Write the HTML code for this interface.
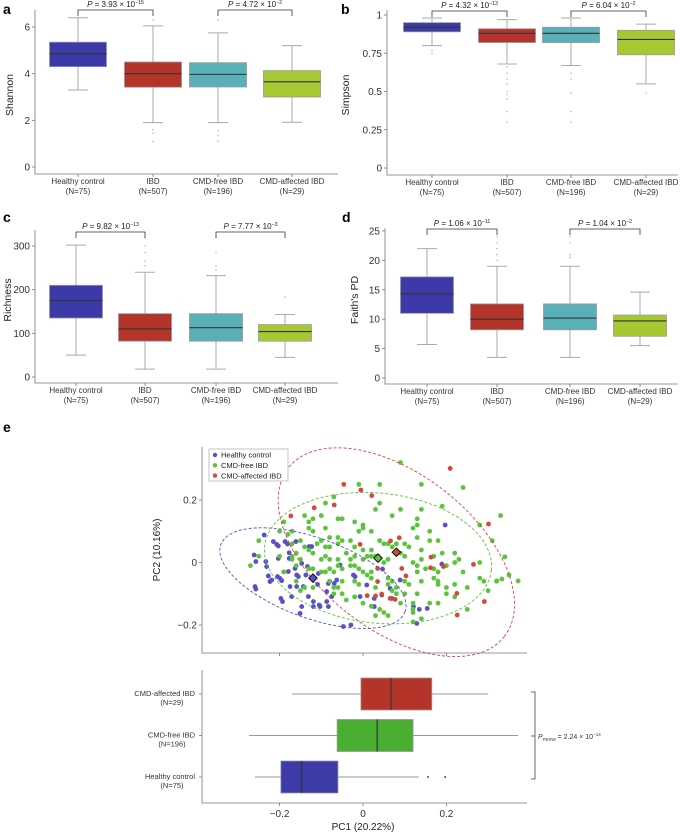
<!DOCTYPE html>
<html><head><meta charset="utf-8">
<style>
html,body{margin:0;padding:0;background:#fff;}
svg{display:block;font-family:"Liberation Sans",Arial,sans-serif;}
</style></head>
<body>
<svg id="fig" width="680" height="833" viewBox="0 0 680 833" xmlns="http://www.w3.org/2000/svg"></svg>
<script>
// ---------- data: alpha diversity panels ----------
const groups = ["Healthy control","IBD","CMD-free IBD","CMD-affected IBD"];
const groupN = ["(N=75)","(N=507)","(N=196)","(N=29)"];
const boxColors = ["#3b3aa8","#b5342a","#5ab0b8","#a6c933"];

const shannonLo = [3.3,1.9,1.9,1.92];
const shannonQ1 = [4.3,3.42,3.43,3.0];
const shannonMed = [4.85,4.0,3.97,3.65];
const shannonQ3 = [5.35,4.5,4.47,4.13];
const shannonHi = [6.4,6.05,5.75,5.2];
const shannonOut = [[],[1.6,1.45,1.1,6.3],[1.55,1.35,1.1,6.3],[]];

const simpsonLo = [0.80,0.68,0.67,0.55];
const simpsonQ1 = [0.89,0.82,0.82,0.74];
const simpsonMed = [0.92,0.88,0.88,0.84];
const simpsonQ3 = [0.95,0.91,0.92,0.90];
const simpsonHi = [0.98,0.97,0.98,0.94];
const simpsonOut = [[0.77,0.75],[0.66,0.62,0.58,0.55,0.5,0.48,0.45,0.37,0.3],[0.62,0.58,0.49,0.37,0.3],[0.49]];

const richLo = [50,18,18,45];
const richQ1 = [135,82,82,82];
const richMed = [175,110,113,104];
const richQ3 = [210,145,145,120];
const richHi = [302,240,232,143];
const richOut = [[],[255,265,285,300,320],[245,255,285,320],[183]];

const faithLo = [5.7,3.5,3.5,5.5];
const faithQ1 = [11,8.2,8.2,7.1];
const faithMed = [14.3,10,10.2,9.7];
const faithQ3 = [17.2,12.6,12.6,10.7];
const faithHi = [22,19,19,14.6];
const faithOut = [[],[20,21,22,23,24],[20.5,21,23,24],[]];

const pLabels = [["3.93","−15","4.72","−2"],["4.32","−13","6.04","−2"],["9.82","−13","7.77","−3"],["1.06","−11","1.04","−2"]];

// ---------- data: PCoA ----------
const hcPoints = [[-0.237,0.088],[-0.261,0.024],[-0.257,0.003],[-0.259,-0.077],[-0.257,-0.085],[-0.233,0.003],[-0.231,-0.013],[-0.227,-0.043],[-0.223,-0.061],[-0.219,-0.056],[-0.215,0.067],[-0.207,0.058],[-0.203,0.053],[-0.203,0.013],[-0.205,-0.045],[-0.199,-0.051],[-0.195,-0.058],[-0.197,-0.115],[-0.193,-0.125],[-0.187,0.067],[-0.181,0.059],[-0.177,0.031],[-0.177,0.013],[-0.179,-0.029],[-0.175,-0.077],[-0.171,-0.109],[-0.163,-0.019],[-0.159,-0.040],[-0.159,-0.077],[-0.161,0.067],[-0.155,-0.045],[-0.151,-0.163],[-0.147,-0.003],[-0.147,-0.141],[-0.143,-0.077],[-0.137,-0.040],[-0.133,-0.013],[-0.131,-0.109],[-0.129,0.051],[-0.123,0.051],[-0.119,-0.125],[-0.119,-0.141],[-0.107,-0.035],[-0.105,-0.136],[-0.109,-0.070],[-0.103,-0.141],[-0.087,-0.093],[-0.087,-0.125],[-0.083,-0.067],[-0.083,-0.141],[-0.075,-0.109],[-0.069,-0.067],[-0.063,-0.056],[-0.055,-0.008],[-0.047,-0.205],[-0.029,-0.200],[-0.023,-0.040],[-0.019,-0.045],[-0.007,-0.109],[0.009,-0.072],[0.027,-0.141],[0.027,-0.115],[0.045,-0.104],[0.047,-0.021],[0.065,-0.083],[0.069,-0.115],[0.089,-0.056],[0.121,-0.141],[0.129,-0.195],[0.135,-0.150],[0.154,-0.147],[0.197,0.120],[0.189,-0.005]];
const freePoints = [[0.09,0.32],[0.24,0.24],[-0.01,0.25],[0.04,0.25],[0.14,0.25],[0.19,0.18],[0.09,0.17],[0.14,0.17],[-0.09,0.19],[-0.07,0.21],[0.04,0.19],[0.03,0.17],[0.07,0.15],[-0.19,0.13],[-0.14,0.15],[-0.12,0.14],[-0.06,0.14],[-0.05,0.14],[-0.02,0.13],[0.00,0.12],[0.02,0.10],[0.00,0.11],[-0.01,0.10],[0.13,0.14],[0.13,0.12],[0.16,0.10],[0.12,0.11],[-0.20,0.10],[-0.18,0.09],[-0.17,0.10],[-0.13,0.11],[-0.12,0.10],[-0.09,0.11],[-0.06,0.08],[-0.05,0.07],[-0.08,0.08],[-0.10,0.07],[-0.15,0.07],[-0.17,0.06],[-0.14,0.05],[-0.11,0.06],[-0.09,0.05],[-0.08,0.05],[-0.06,0.06],[-0.03,0.07],[-0.02,0.05],[0.00,0.04],[0.02,0.04],[0.04,0.07],[0.06,0.06],[0.07,0.05],[0.10,0.06],[0.11,0.05],[0.13,0.08],[0.16,0.07],[0.18,0.07],[0.22,0.03],[0.24,-0.03],[0.28,0.12],[0.31,0.07],[0.32,-0.06],[0.33,0.15],[0.28,0.00],[0.28,-0.05],[0.25,-0.08],[0.22,-0.07],[0.20,-0.08],[0.18,-0.03],[0.17,-0.05],[0.15,-0.02],[0.14,0.01],[0.12,0.00],[0.13,-0.01],[0.14,-0.06],[0.13,-0.10],[0.12,-0.13],[0.12,-0.16],[0.12,-0.19],[0.10,-0.10],[0.08,-0.08],[0.07,-0.06],[0.06,-0.05],[0.05,0.00],[0.06,0.01],[0.03,0.02],[0.02,0.02],[0.01,0.02],[0.00,0.01],[-0.02,0.02],[-0.03,0.01],[-0.04,0.03],[-0.06,0.01],[-0.06,-0.01],[-0.08,-0.02],[-0.08,0.01],[-0.09,0.02],[-0.10,0.01],[-0.12,0.03],[-0.13,0.04],[-0.15,0.01],[-0.16,0.03],[-0.17,0.02],[-0.25,0.07],[-0.25,0.02],[-0.27,-0.01],[-0.13,-0.02],[-0.12,-0.02],[-0.10,-0.03],[-0.09,-0.03],[-0.07,-0.03],[-0.05,-0.02],[-0.03,-0.01],[-0.02,-0.01],[-0.01,-0.02],[0.00,-0.03],[0.01,-0.04],[0.02,-0.05],[0.02,-0.03],[0.03,-0.08],[0.06,-0.07],[0.07,-0.09],[0.08,-0.10],[-0.01,-0.07],[-0.02,-0.06],[-0.05,-0.06],[-0.06,-0.08],[-0.07,-0.08],[-0.08,-0.06],[-0.07,-0.10],[-0.05,-0.10],[-0.04,-0.12],[-0.02,-0.11],[0.00,-0.13],[0.02,-0.14],[0.04,-0.15],[0.05,-0.16],[0.10,-0.06],[0.13,-0.03],[0.17,-0.02],[0.18,-0.06],[0.20,-0.10],[0.22,-0.11],[0.16,-0.13],[0.18,-0.13],[0.12,-0.15],[0.14,-0.18],[0.09,-0.13],[0.03,-0.17],[0.06,-0.17],[-0.16,-0.06],[-0.15,-0.09],[-0.14,-0.08],[-0.12,-0.08],[-0.17,0.01],[-0.20,0.02],[-0.19,-0.03],[-0.16,-0.01],[0.18,-0.07],[0.11,-0.07],[0.09,0.03],[0.10,0.02],[0.08,0.06],[0.17,0.02],[0.19,0.03],[0.29,-0.06],[0.30,-0.09],[0.22,0.00],[0.23,0.01],[0.20,-0.01],[0.14,0.04],[0.05,0.06],[-0.10,0.15],[-0.13,0.13],[0.372,-0.059],[0.350,-0.040],[0.340,0.018],[0.333,-0.053],[0.321,-0.059],[0.25,-0.15]];
const affPoints = [[0.209,0.301],[-0.046,0.250],[-0.005,0.232],[0.021,0.214],[-0.117,0.175],[-0.069,0.184],[-0.173,0.149],[-0.007,0.058],[0.066,0.069],[0.087,0.079],[0.081,0.029],[0.093,-0.019],[0.103,-0.043],[0.035,-0.019],[0.035,-0.061],[0.010,-0.106],[0.030,-0.107],[0.045,-0.101],[0.065,-0.115],[0.077,-0.118],[0.163,0.017],[0.162,-0.017],[0.193,-0.013],[0.265,-0.006],[0.225,-0.099],[0.291,-0.125],[0.226,-0.168],[0.301,0.123]];
const centroidX = [-0.12,0.036,0.08];
const centroidY = [-0.05,0.014,0.033];
const pcTicks = [-0.2,0,0.2];
const pcTickLabels = ["−0.2","0","0.2"];

// PC1 boxplot (rows bottom->top: HC, CMD-free, CMD-affected)
const pcGroups = ["Healthy control","CMD-free IBD","CMD-affected IBD"];
const pcN = ["(N=75)","(N=196)","(N=29)"];
const pcLo = [-0.259,-0.273,-0.17];
const pcQ1 = [-0.197,-0.062,-0.005];
const pcMed = [-0.147,0.034,0.067];
const pcQ3 = [-0.06,0.12,0.165];
const pcHi = [0.134,0.372,0.30];
const pcOut = [[0.156,0.197],[],[]];

// ---------- drawing ----------
const NS="http://www.w3.org/2000/svg";
const svg=document.getElementById('fig');
function mk(tag,attrs,parent){const e=document.createElementNS(NS,tag);for(const k in attrs)e.setAttribute(k,attrs[k]);(parent||svg).appendChild(e);return e;}
function txt(s,attrs,parent){const t=mk('text',attrs,parent);t.textContent=s;return t;}

function pLabel(g,cx,y,mant,exp,size){
  const t=mk('text',{x:cx,y:y,'font-size':size,'text-anchor':'middle',fill:'#222'},g);
  const a=document.createElementNS(NS,'tspan');a.setAttribute('font-style','italic');a.textContent='P';t.appendChild(a);
  const b=document.createElementNS(NS,'tspan');b.textContent=' = '+mant+' × 10';t.appendChild(b);
  const c=document.createElementNS(NS,'tspan');c.setAttribute('font-size',size*0.65);c.setAttribute('dy',-size*0.4);c.textContent=exp;t.appendChild(c);
  return t;
}

const panels=[
 {name:'shannon',letter:'a',lx:3,ly:14,axX:35,top:10,bottom:174,right:338,base:167,k:23.33,ticks:[0,2,4,6],tl:["0","2","4","6"],cent:[78,153,218,292],bw:57,by:10,labY:181,title:'Shannon',tx:13,ty:95,
  lo:shannonLo,q1:shannonQ1,med:shannonMed,q3:shannonQ3,hi:shannonHi,out:shannonOut,p:pLabels[0]},
 {name:'simpson',letter:'b',lx:341,ly:14,axX:387,top:10,bottom:175,right:678,base:168,k:153,ticks:[0,0.25,0.5,0.75,1],tl:["0","0.25","0.5","0.75","1"],cent:[432,507,571,646],bw:57,by:11,labY:182,title:'Simpson',tx:349,ty:95,
  lo:simpsonLo,q1:simpsonQ1,med:simpsonMed,q3:simpsonQ3,hi:simpsonHi,out:simpsonOut,p:pLabels[1]},
 {name:'richness',letter:'c',lx:3,ly:222,axX:35,top:230,bottom:383,right:338,base:377,k:0.4367,ticks:[0,100,200,300],tl:["0","100","200","300"],cent:[76,145,216,285],bw:53,by:232,labY:390,title:'Richness',tx:11,ty:300,
  lo:richLo,q1:richQ1,med:richMed,q3:richQ3,hi:richHi,out:richOut,p:pLabels[2]},
 {name:'faiths-pd',letter:'d',lx:342,ly:222,axX:385,top:228,bottom:384,right:678,base:378,k:5.88,ticks:[0,5,10,15,20,25],tl:["0","5","10","15","20","25"],cent:[427,497,570,640],bw:53,by:229,labY:391,title:"Faith's PD",tx:358,ty:300,
  lo:faithLo,q1:faithQ1,med:faithMed,q3:faithQ3,hi:faithHi,out:faithOut,p:pLabels[3]}
];

panels.forEach(P=>{
  const g=mk('g',{});
  
  
  const ys=v=>P.base-v*P.k;
  const L=txt(P.letter,{x:P.lx,y:P.ly,'font-size':14,'font-weight':'bold',fill:'#000'},g);
  
  
  const ax=mk('path',{d:`M${P.axX},${P.top}V${P.bottom}H${P.right}`,stroke:'#777','stroke-width':0.8,fill:'none'},g);
  
  
  P.ticks.forEach((v,i)=>{
    mk('line',{x1:P.axX-3,x2:P.axX,y1:ys(v),y2:ys(v),stroke:'#777','stroke-width':0.8},g);
    const t=txt(P.tl[i],{x:P.axX-5,y:ys(v)+3.5,'font-size':10,'text-anchor':'end',fill:'#333'},g);
    
    
  });
  const yt=txt(P.title,{x:P.tx,y:P.ty,'font-size':10.5,'text-anchor':'middle',fill:'#222',transform:`rotate(-90 ${P.tx} ${P.ty})`},g);
  
  
  groups.forEach((gname,i)=>{
    const cx=P.cent[i];
    mk('line',{x1:cx,x2:cx,y1:P.bottom,y2:P.bottom+3,stroke:'#777','stroke-width':0.8},g);
    const l1=txt(gname,{x:cx,y:P.labY+3,'font-size':8,'text-anchor':'middle',fill:'#333'},g);
    
    
    txt(groupN[i],{x:cx,y:P.labY+13,'font-size':8,'text-anchor':'middle',fill:'#333'},g);
    const bg=mk('g',{},g);
    
    
    mk('line',{x1:cx,x2:cx,y1:ys(P.lo[i]),y2:ys(P.hi[i]),stroke:'#aaa','stroke-width':1},bg);
    mk('line',{x1:cx-10,x2:cx+10,y1:ys(P.lo[i]),y2:ys(P.lo[i]),stroke:'#aaa','stroke-width':1},bg);
    mk('line',{x1:cx-10,x2:cx+10,y1:ys(P.hi[i]),y2:ys(P.hi[i]),stroke:'#aaa','stroke-width':1},bg);
    mk('rect',{x:cx-P.bw/2,y:ys(P.q3[i]),width:P.bw,height:ys(P.q1[i])-ys(P.q3[i]),fill:boxColors[i],stroke:'#999','stroke-width':0.8},bg);
    mk('line',{x1:cx-P.bw/2,x2:cx+P.bw/2,y1:ys(P.med[i]),y2:ys(P.med[i]),stroke:'#333','stroke-width':1.1},bg);
    P.out[i].forEach(v=>{mk('circle',{cx:cx,cy:ys(v),r:0.8,fill:'#bbb'},bg);});
  });
  [[0,1],[2,3]].forEach((pr,j)=>{
    const x1=P.cent[pr[0]],x2=P.cent[pr[1]];
    const br=mk('path',{d:`M${x1},${P.by+6}V${P.by}H${x2}V${P.by+6}`,stroke:'#333','stroke-width':0.8,fill:'none'},g);
    
    
    const pl=pLabel(g,(x1+x2)/2,P.by-3,P.p[j*2],P.p[j*2+1],8);
    
    
  });
});

// ---------- panel e ----------
const eL=txt('e',{x:3,y:432,'font-size':14,'font-weight':'bold',fill:'#000'});


const px=v=>363+v*417;
const py=v=>562.5-v*312.5;
const sc=mk('g',{});


const sax=mk('path',{d:'M202,447V653H527',stroke:'#777','stroke-width':0.8,fill:'none'},sc);


[0.2,0,-0.2].forEach((v,i)=>{
  mk('line',{x1:199,x2:202,y1:py(v),y2:py(v),stroke:'#777','stroke-width':0.8},sc);
  const t=txt(["0.2","0","−0.2"][i],{x:197,y:py(v)+3.5,'font-size':10,'text-anchor':'end',fill:'#333'},sc);
  
  
});
pcTicks.forEach(v=>{mk('line',{x1:px(v),x2:px(v),y1:653,y2:656,stroke:'#777','stroke-width':0.8},sc);});
const pc2=txt('PC2 (10.16%)',{x:160,y:550,'font-size':10,'text-anchor':'middle',fill:'#222',transform:'rotate(-90 160 550)'},sc);



const ptColors=["#5a4fc8","#5cc43c","#d24a3a"];
const ellipseSpecs=[{rx:98,ry:40,rot:20},{rx:114,ry:65,rot:6},{rx:137,ry:78,rot:38}];
[hcPoints,freePoints,affPoints].forEach((pts,gi)=>{
  const gg=mk('g',{},sc);
  
  
  pts.forEach(p=>{
    const c=mk('circle',{cx:px(p[0]),cy:py(p[1]),r:2.4,fill:ptColors[gi]},gg);
    
    
  });
});
ellipseSpecs.forEach((E,gi)=>{
  const cx=px(centroidX[gi]),cy=py(centroidY[gi]);
  const el=mk('ellipse',{cx:cx,cy:cy,rx:E.rx,ry:E.ry,fill:'none',stroke:ptColors[gi],'stroke-width':0.9,'stroke-dasharray':'3,2',transform:`rotate(${E.rot} ${cx} ${cy})`},sc);
  
  
});
centroidX.forEach((v,gi)=>{
  const cx=px(v),cy=py(centroidY[gi]);
  const d=mk('rect',{x:cx-3,y:cy-3,width:6,height:6,fill:ptColors[gi],stroke:'#111','stroke-width':1,transform:`rotate(45 ${cx} ${cy})`},sc);
  
  
});
// legend
const lg=mk('g',{},sc);


mk('rect',{x:209,y:449,width:79,height:32,fill:'#fff',stroke:'#aaa','stroke-width':0.7},lg);
["Healthy control","CMD-free IBD","CMD-affected IBD"].forEach((s,i)=>{
  const y=455+i*10.3;
  const le=mk('g',{},lg);
  
  
  mk('circle',{cx:215,cy:y,r:2.2,fill:ptColors[i]},le);
  txt(s,{x:221,y:y+2.7,'font-size':7.5,fill:'#222'},le);
});

// PC1 boxplot
const bx=mk('g',{});


const bax=mk('path',{d:'M202,670V803H527',stroke:'#777','stroke-width':0.8,fill:'none'},bx);


pcTicks.forEach((v,i)=>{
  mk('line',{x1:px(v),x2:px(v),y1:803,y2:806,stroke:'#777','stroke-width':0.8},bx);
  const t=txt(pcTickLabels[i],{x:px(v),y:817,'font-size':10,'text-anchor':'middle',fill:'#333'},bx);
  
  
});
const pc1=txt('PC1 (20.22%)',{x:363,y:830,'font-size':10,'text-anchor':'middle',fill:'#222'},bx);


const rowY=i=>777-i*41.5;
const pcBoxColors=["#3d3ba8","#4aae33","#b5342a"];
pcGroups.forEach((gname,i)=>{
  const y=rowY(i);
  mk('line',{x1:199,x2:202,y1:y,y2:y,stroke:'#777','stroke-width':0.8},bx);
  const l=txt(gname,{x:195,y:y+2,'font-size':7.5,'text-anchor':'end',fill:'#333'},bx);
  
  
  txt(pcN[i],{x:172,y:y+11,'font-size':7.5,'text-anchor':'middle',fill:'#333'},bx);
  const bg=mk('g',{},bx);
  
  
  mk('line',{x1:px(pcLo[i]),x2:px(pcHi[i]),y1:y,y2:y,stroke:'#999','stroke-width':1},bg);
  mk('rect',{x:px(pcQ1[i]),y:y-16,width:px(pcQ3[i])-px(pcQ1[i]),height:32,fill:pcBoxColors[i],stroke:'#999','stroke-width':0.8},bg);
  mk('line',{x1:px(pcMed[i]),x2:px(pcMed[i]),y1:y-16,y2:y+16,stroke:'#333','stroke-width':1.2},bg);
  pcOut[i].forEach(v=>{mk('circle',{cx:px(v),cy:y,r:0.9,fill:'#222'},bg);});
});
const pb=mk('path',{d:'M531,692H535V779H531M531,736H535',stroke:'#444','stroke-width':0.8,fill:'none'},bx);


const pt=mk('text',{x:538,y:739,'font-size':7,fill:'#333'},bx);


(function(){
  const a=document.createElementNS(NS,'tspan');a.setAttribute('font-style','italic');a.textContent='P';pt.appendChild(a);
  const s=document.createElementNS(NS,'tspan');s.setAttribute('font-size',4.5);s.setAttribute('dy',2);s.setAttribute('font-style','italic');s.textContent='PERM';pt.appendChild(s);
  const b=document.createElementNS(NS,'tspan');b.setAttribute('dy',-2);b.textContent=' = 2.24 × 10';pt.appendChild(b);
  const c=document.createElementNS(NS,'tspan');c.setAttribute('font-size',4.5);c.setAttribute('dy',-3);c.textContent='−14';pt.appendChild(c);
})();
</script>
</body></html>
